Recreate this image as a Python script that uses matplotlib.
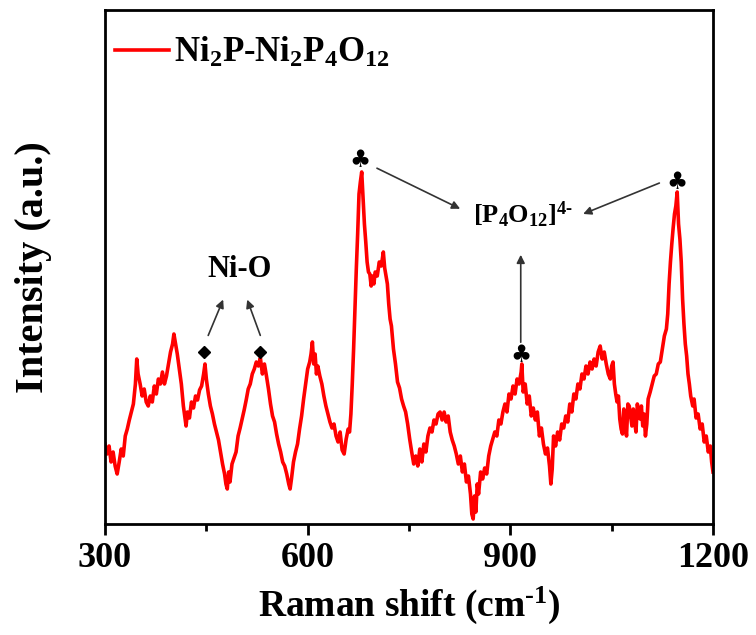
import numpy as np
import matplotlib
matplotlib.use("Agg")
import matplotlib.pyplot as plt

plt.rcParams['font.family'] = ['Liberation Serif', 'DejaVu Sans']
plt.rcParams['font.weight'] = 'bold'
plt.rcParams['mathtext.fontset'] = 'custom'
plt.rcParams['mathtext.rm'] = 'Liberation Serif:bold'
plt.rcParams['mathtext.bf'] = 'Liberation Serif:bold'
plt.rcParams['mathtext.it'] = 'Liberation Serif:bold:italic'
plt.rcParams['mathtext.default'] = 'rm'

# Raman spectrum (shift in cm-1, intensity in arb. units)
shift = [300, 303, 306, 309, 312, 315, 318, 321, 324, 327, 330, 333, 336, 339, 342, 345, 347, 349,
         352, 355, 358, 361, 364, 367, 370, 373, 376, 379, 382, 385, 388, 391, 394, 397, 400, 402,
         404, 407, 410, 413, 416, 418, 420, 422, 425, 428, 431, 434, 437, 440, 443, 446, 448, 450,
         453, 456, 459, 462, 465, 468, 471, 474, 477, 479, 481, 483, 485, 488, 491, 494, 497, 500,
         503, 506, 509, 512, 515, 518, 521, 524, 527, 530, 533, 536, 539, 542, 545, 548, 551, 554,
         557, 560, 563, 566, 569, 572, 574, 576, 579, 582, 585, 588, 591, 594, 597, 600, 603, 605,
         607, 609, 611, 613, 615, 618, 621, 624, 627, 630, 633, 636, 639, 642, 645, 648, 651, 654,
         657, 660, 662, 664, 666, 668, 670, 672, 674, 676, 678, 680, 682, 684, 686, 688, 690, 692,
         694, 696, 698, 700, 703, 706, 709, 712, 714, 716, 718, 720, 722, 724, 727, 730, 733, 736,
         739, 742, 745, 748, 751, 754, 757, 760, 763, 766, 769, 772, 775, 778, 781, 784, 787, 790,
         793, 796, 799, 802, 805, 808, 811, 814, 817, 820, 823, 826, 829, 832, 835, 838, 841, 843,
         845, 847, 849, 851, 853, 856, 859, 862, 865, 868, 871, 874, 877, 880, 883, 886, 889, 892,
         895, 898, 901, 904, 907, 910, 913, 916, 917, 919, 922, 925, 928, 931, 934, 937, 940, 943,
         946, 949, 952, 955, 958, 960, 962, 964, 967, 970, 973, 976, 979, 982, 985, 988, 991, 994,
         997, 1000, 1003, 1006, 1009, 1012, 1015, 1018, 1021, 1024, 1027, 1030, 1033, 1036, 1039, 1042,
         1045, 1048, 1050, 1052, 1054, 1056, 1058, 1060, 1062, 1064, 1066, 1068, 1070, 1072, 1074, 1076,
         1078, 1080, 1082, 1084, 1086, 1088, 1090, 1092, 1094, 1096, 1098, 1100, 1102, 1104, 1107, 1110,
         1113, 1116, 1119, 1122, 1125, 1128, 1131, 1133, 1135, 1137, 1139, 1141, 1143, 1145, 1147, 1149,
         1151, 1153, 1155, 1157, 1159, 1161, 1163, 1165, 1167, 1170, 1172, 1175, 1178, 1181, 1184, 1187,
         1190, 1193, 1196, 1198, 1200]
intensity = [80, 70, 78, 62, 72, 58, 50, 62, 75, 68, 88, 95, 104, 112, 120, 140, 165, 150,
             140, 128, 135, 122, 118, 128, 122, 138, 130, 145, 140, 152, 140, 148, 160, 172, 180, 190,
             182, 170, 155, 140, 118, 108, 98, 112, 106, 122, 116, 128, 124, 134, 138, 150, 160, 145,
             130, 118, 110, 100, 92, 84, 72, 60, 50, 40, 35, 52, 42, 60, 66, 72, 88, 96,
             105, 114, 124, 135, 140, 150, 155, 162, 158, 166, 150, 160, 148, 135, 120, 108, 102, 90,
             80, 72, 62, 58, 50, 40, 35, 45, 62, 72, 80, 95, 108, 125, 140, 155, 162, 170,
             182, 160, 170, 150, 158, 148, 140, 128, 118, 110, 102, 96, 100, 88, 82, 92, 74, 70,
             85, 95, 92, 110, 140, 175, 215, 255, 290, 330, 342, 352, 325, 300, 282, 262, 252, 250,
             238, 248, 240, 252, 248, 262, 258, 272, 256, 248, 240, 220, 205, 198, 175, 160, 142, 136,
             125, 118, 112, 100, 85, 72, 60, 68, 58, 75, 62, 80, 72, 88, 96, 92, 104, 100,
             110, 112, 104, 112, 102, 108, 92, 84, 78, 70, 60, 68, 52, 60, 42, 48, 30, 10,
             5, 28, 12, 40, 30, 52, 45, 56, 50, 68, 78, 85, 92, 88, 104, 100, 112, 120,
             112, 130, 125, 138, 130, 145, 140, 152, 160, 132, 140, 120, 128, 108, 116, 104, 112, 88,
             96, 80, 70, 76, 58, 40, 55, 88, 78, 92, 84, 100, 96, 108, 102, 120, 112, 130,
             125, 140, 135, 150, 145, 158, 150, 162, 155, 165, 158, 172, 178, 165, 172, 160,
             150, 145, 158, 162, 140, 130, 122, 128, 105, 95, 90, 115, 100, 88, 120, 118,
             108, 98, 115, 102, 92, 120, 112, 105, 118, 98, 110, 88, 100, 125, 132, 140,
             148, 150, 160, 162, 175, 188, 195, 210, 240, 262, 280, 296, 310, 318, 332, 300,
             285, 262, 225, 200, 180, 168, 150, 140, 128, 118, 125, 106, 110, 95, 100, 82,
             88, 72, 78, 62, 52]

xticks = [300, 600, 900, 1200]
minor_xticks = [450, 750, 1050]
nio_peaks = [447, 530]
club_peaks = [677, 915, 1147]
club_heights = [364, 169, 342]

fig = plt.figure(figsize=(7.56, 6.35), dpi=100)
ax = fig.add_axes([105/756, 1 - 524/635, 608/756, 514/635])

ax.plot(shift, intensity, color='#ff0000', lw=2.6, label=r'Ni$_2$P-Ni$_2$P$_4$O$_{12}$')

ax.set_xlim(300, 1200)
ax.set_ylim(0, 514)
ax.set_xticks(xticks)
ax.set_xticks(minor_xticks, minor=True)
ax.set_yticks([])
ax.tick_params(axis='x', which='major', direction='out', length=8, width=2, labelsize=26, pad=5)
ax.tick_params(axis='x', which='minor', direction='out', length=5, width=2)
for s in ax.spines.values():
    s.set_linewidth(2)

ax.set_xlabel(r'Raman shift (cm$^{\text{-}1}$)', fontsize=27, fontweight='bold', labelpad=7)
ax.set_ylabel('Intensity (a.u.)', fontsize=29, fontweight='bold', labelpad=38)

leg = ax.legend(loc='upper left', frameon=False, fontsize=25, handlelength=1.55,
                handletextpad=0.15, borderaxespad=0.0, borderpad=0.0,
                bbox_to_anchor=(0.016, 0.95))

# Ni-O labels
ax.plot(nio_peaks, [172, 172], 'D', color='black', ms=6.5)
ax.text(498.7, 247, 'Ni-O', fontsize=22, fontweight='bold', ha='center', va='baseline')
arw = dict(arrowstyle='-|>', color='#333333', lw=1.2, mutation_scale=12)
ax.annotate('', xy=(476.5, 227), xytext=(451.2, 186), arrowprops=arw)
ax.annotate('', xy=(509.1, 227), xytext=(531.3, 186), arrowprops=arw)

# [P4O12]4- labels
for xc, yc in zip(club_peaks, club_heights):
    ax.text(xc, yc, '\u2663', fontsize=17, ha='center', va='center', family='DejaVu Sans', color='black')
ax.text(919, 301, r'[P$_4$O$_{12}$]$^{4\text{-}}$', fontsize=19, fontweight='bold', ha='center', va='baseline')
ax.annotate('', xy=(829.4, 314), xytext=(698.9, 357), arrowprops=arw)
ax.annotate('', xy=(1004, 309), xytext=(1124.4, 342), arrowprops=arw)
ax.annotate('', xy=(915.4, 272), xytext=(915.4, 179), arrowprops=arw)

fig.savefig('out.png', dpi=100)
